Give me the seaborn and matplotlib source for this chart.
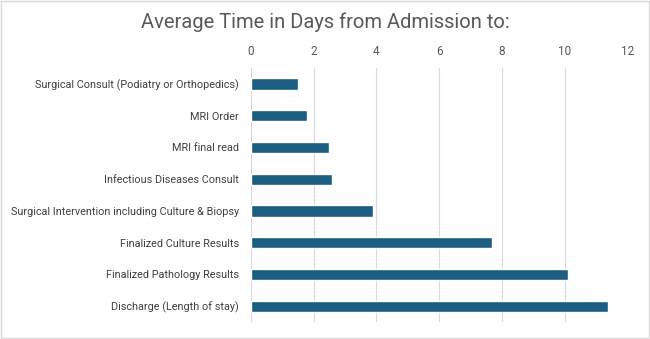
import matplotlib
matplotlib.use("Agg")
import matplotlib.pyplot as plt
import seaborn as sns
import pandas as pd

# values
steps = [
    "Surgical Consult (Podiatry or Orthopedics)",
    "MRI Order",
    "MRI final read",
    "Infectious Diseases Consult",
    "Surgical Intervention including Culture & Biopsy",
    "Finalized Culture Results",
    "Finalized Pathology Results",
    "Discharge (Length of stay)",
]
days = [1.5, 1.8, 2.5, 2.6, 3.9, 7.7, 10.1, 11.4]
x_ticks = [0, 2, 4, 6, 8, 10, 12]

df = pd.DataFrame({"step": steps, "days": days})

sns.set_theme(style="white")
plt.rcParams["font.family"] = ["Roboto", "DejaVu Sans"]

fig = plt.figure(figsize=(6.5, 3.39), dpi=100)
ax = fig.add_axes([0.386, 0.05, 0.579, 0.749])

sns.barplot(data=df, x="days", y="step", color="#1b5e82", width=0.35,
            saturation=1, ax=ax, zorder=3)

ax.set_xlim(0, 12)
ax.set_xticks(x_ticks)
ax.xaxis.tick_top()
ax.grid(axis="x", color="#d9d9d9", linewidth=0.8, zorder=0)
ax.tick_params(axis="x", length=0, pad=7, labelsize=8.5, labelcolor="#595959")
ax.tick_params(axis="y", length=0, pad=8.5, labelsize=7.8, labelcolor="#404040")
ax.set_xlabel("")
ax.set_ylabel("")
for s in ax.spines.values():
    s.set_visible(False)

fig.text(0.5, 0.935, "Average Time in Days from Admission to:", ha="center",
         va="center", fontsize=14.5, color="#595959")

# light frame around the whole chart
fig.patches.append(plt.Rectangle((0.002, 0.003), 0.996, 0.994, transform=fig.transFigure,
                                 fill=False, edgecolor="#d9d9d9", linewidth=1))

fig.savefig("out.png", dpi=100)
